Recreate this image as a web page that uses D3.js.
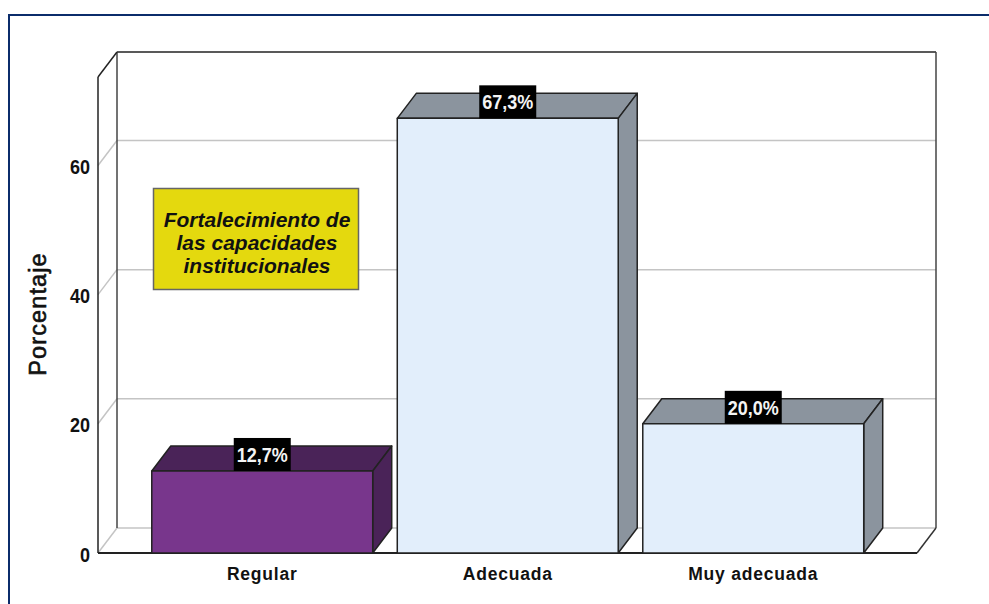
<!DOCTYPE html>
<html>
<head>
<meta charset="utf-8">
<script src="https://cdn.jsdelivr.net/npm/d3@7"></script>
<style>
  html, body { margin: 0; padding: 0; background: #fff; }
  svg { display: block; }
  text { font-family: "Liberation Sans", Arial, sans-serif; }
</style>
</head>
<body>
<script>
const categories = ["Regular", "Adecuada", "Muy adecuada"];
const values = [12.7, 67.3, 20.0];
const valueLabels = ["12,7%", "67,3%", "20,0%"];
const barFront = ["#78368c", "#e2eefb", "#e2eefb"];
const barSide = ["#4a2358", "#8b949e", "#8b949e"];
const yTicks = [0, 20, 40, 60];
const yTitle = "Porcentaje";
const noteLines = ["Fortalecimiento de", "las capacidades", "institucionales"];

const width = 989;
const height = 604;

// front plane of the box and the shift to its back plane
const plot = { left: 98, right: 917, bottom: 553, top: 77 };
const depth = { x: 19, y: -25 };

const svg = d3.select("body").append("svg")
  .attr("width", width)
  .attr("height", height);

// Scales setup
const yscale = d3.scaleLinear().domain([0, 73.7]).range([plot.bottom, plot.top]);
const xscale = d3.scaleBand().domain(categories).range([139.5, 876])
  .paddingInner(0.1).paddingOuter(0.05);

// squeeze a text horizontally, no narrow font is installed
function condense(sel, factor) {
  sel.each(function () {
    const len = this.getComputedTextLength();
    d3.select(this)
      .attr("textLength", len * factor)
      .attr("lengthAdjust", "spacingAndGlyphs");
  });
}

// Outer frame of the slide
svg.append("path")
  .attr("d", `M9,${height} V15 H${width}`)
  .attr("fill", "none")
  .attr("stroke", "#0b2c6b")
  .attr("stroke-width", 2);

const line = (x1, y1, x2, y2, color, w) => svg.append("line")
  .attr("x1", x1).attr("y1", y1).attr("x2", x2).attr("y2", y2)
  .attr("stroke", color).attr("stroke-width", w || 1.5);

// Gridlines on back wall and left wall
yTicks.forEach(t => {
  const y = yscale(t);
  line(plot.left, y, plot.left + depth.x, y + depth.y, "#c4c4c4");
  line(plot.left + depth.x, y + depth.y, plot.right + depth.x, y + depth.y, "#c4c4c4");
});

// Box edges
const backTop = plot.top + depth.y;
const backBottom = plot.bottom + depth.y;
line(plot.left + depth.x, backTop, plot.right + depth.x, backTop, "#222");
line(plot.left + depth.x, backTop, plot.left + depth.x, backBottom, "#444");
line(plot.right + depth.x, backTop, plot.right + depth.x, backBottom, "#444");
line(plot.left, plot.top, plot.left + depth.x, backTop, "#222");
line(plot.left, plot.top, plot.left, plot.bottom, "#222");
line(plot.right, plot.bottom, plot.right + depth.x, backBottom, "#333");
line(plot.left, plot.bottom, plot.right, plot.bottom, "#222", 2);

// Axes, lines hidden because the box draws them
const yaxis = d3.axisLeft(yscale).tickValues(yTicks).tickSize(0).tickPadding(8);
const g_yaxis = svg.append("g").attr("transform", `translate(${plot.left},0)`).call(yaxis);
g_yaxis.select(".domain").remove();
g_yaxis.selectAll("text")
  .attr("dy", "0.4em")
  .style("font-size", "20px")
  .style("font-weight", "bold")
  .attr("fill", "#111")
  .call(condense, 0.9);

const xaxis = d3.axisBottom(xscale).tickSize(0).tickPadding(15);
const g_xaxis = svg.append("g").attr("transform", `translate(0,${plot.bottom})`).call(xaxis);
g_xaxis.select(".domain").remove();
g_xaxis.selectAll("text")
  .style("font-size", "17.5px")
  .style("font-weight", "bold")
  .style("letter-spacing", "0.8px")
  .attr("fill", "#111");

// Bars
const data = categories.map((c, i) => ({ c, v: values[i], label: valueLabels[i], front: barFront[i], side: barSide[i] }));
const bars = svg.selectAll("g.bar").data(data).join("g").attr("class", "bar");

bars.each(function (d) {
  const g = d3.select(this);
  const x0 = xscale(d.c);
  const x1 = x0 + xscale.bandwidth();
  const yTop = yscale(d.v);
  const yBase = yscale(0);
  const edge = { stroke: "#222", "stroke-width": 1.5, "stroke-linejoin": "round" };
  const face = (pts, fill) => {
    const p = g.append("polygon").attr("points", pts.join(" ")).attr("fill", fill);
    Object.entries(edge).forEach(([k, v]) => p.attr(k, v));
  };
  face([[x0, yTop], [x0 + depth.x, yTop + depth.y], [x1 + depth.x, yTop + depth.y], [x1, yTop]], d.side);
  face([[x1, yTop], [x1 + depth.x, yTop + depth.y], [x1 + depth.x, yBase + depth.y], [x1, yBase]], d.side);
  face([[x0, yTop], [x1, yTop], [x1, yBase], [x0, yBase]], d.front);

  // black value tag sits on the top face
  const cx = (x0 + x1) / 2;
  g.append("rect")
    .attr("x", cx - 28.5).attr("y", yTop - 33)
    .attr("width", 57).attr("height", 33)
    .attr("fill", "#000");
  g.append("text")
    .attr("x", cx).attr("y", yTop - 9)
    .attr("text-anchor", "middle")
    .style("font-size", "20px")
    .style("font-weight", "bold")
    .attr("fill", "#f4f4f4")
    .text(d.label)
    .call(condense, 0.9);
});

// Y title
svg.append("text")
  .attr("transform", "translate(46,314) rotate(-90)")
  .attr("text-anchor", "middle")
  .style("font-size", "23.5px")
  .style("letter-spacing", "1.1px")
  .attr("fill", "#111")
  .attr("stroke", "#111")
  .attr("stroke-width", 0.6)
  .text(yTitle);

// Yellow note box
svg.append("rect")
  .attr("x", 153.5).attr("y", 188.5)
  .attr("width", 205).attr("height", 101)
  .attr("fill", "#e4d90e")
  .attr("stroke", "#666")
  .attr("stroke-width", 1.5);

svg.append("text")
  .attr("text-anchor", "middle")
  .style("font-size", "21px")
  .style("font-weight", "bold")
  .style("font-style", "italic")
  .attr("fill", "#111")
  .selectAll("tspan").data(noteLines).join("tspan")
  .attr("x", 257)
  .attr("y", (d, i) => 227 + i * 23)
  .text(d => d);
</script>
</body>
</html>
